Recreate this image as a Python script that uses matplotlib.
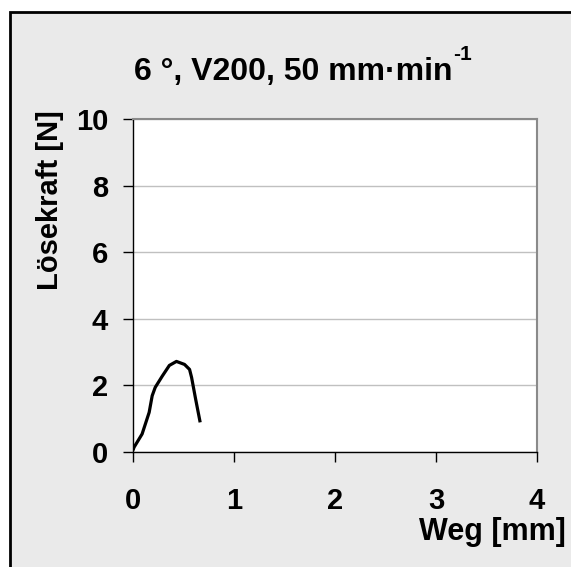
import matplotlib.pyplot as plt
from matplotlib.patches import Rectangle

# Weg [mm] vs Lösekraft [N]
weg = [0.0, 0.01, 0.09, 0.16, 0.19, 0.22, 0.29, 0.36, 0.43, 0.51, 0.56, 0.58, 0.62, 0.665]
kraft = [0.05, 0.14, 0.54, 1.19, 1.69, 1.94, 2.28, 2.60, 2.72, 2.63, 2.48, 2.24, 1.59, 0.89]

x_ticks = [0, 1, 2, 3, 4]
y_ticks = [0, 2, 4, 6, 8, 10]

plt.rcParams['font.family'] = ['Liberation Sans', 'DejaVu Sans']
plt.rcParams['font.weight'] = 'bold'

W, H = 571, 567
fig = plt.figure(figsize=(W / 100, H / 100), dpi=100, facecolor='white')

# grey panel with black frame
fig.patches.append(Rectangle((10 / W, -0.1), 1.2, (H - 12) / H + 0.1, transform=fig.transFigure,
                             facecolor='#eaeaea', edgecolor='black', lw=2, zorder=-5))

ax = fig.add_axes([133 / W, (H - 452) / H, (537 - 133) / W, (452 - 119) / H])
ax.set_zorder(2)
ax.set_facecolor('white')
ax.plot(weg, kraft, color='black', lw=2.3, solid_capstyle='butt', zorder=3)

ax.set_xlim(0, 4)
ax.set_ylim(0, 10)
ax.set_xticks(x_ticks)
ax.set_yticks(y_ticks)
ax.tick_params(axis='both', direction='out', length=7, width=1, labelsize=21)
ax.tick_params(axis='y', pad=11)
ax.tick_params(axis='x', pad=18)
for lab in ax.get_xticklabels() + ax.get_yticklabels():
    lab.set_fontweight('bold')

ax.grid(axis='y', color='#c0c0c0', lw=1)
ax.set_axisbelow(True)
for s in ['top', 'right']:
    ax.spines[s].set_color('#8a8a8a')
    ax.spines[s].set_linewidth(1.5)
for s in ['left', 'bottom']:
    ax.spines[s].set_color('black')
    ax.spines[s].set_linewidth(1)

fig.text(50 / W, 1 - 200 / H, 'Lösekraft [N]', rotation=90, ha='center', va='center',
         fontsize=21, fontweight='bold')
fig.text(566 / W, 1 - 532 / H, 'Weg [mm]', ha='right', va='center',
         fontsize=22, fontweight='bold')
title = fig.text(134 / W, 1 - 72 / H, '6 °, V200, 50 mm·min', ha='left', va='center',
                 fontsize=23, fontweight='bold')

# superscript right after the title text
bb = title.get_window_extent(renderer=fig.canvas.get_renderer())
fig.text(bb.x1 / W + 1 / W, 1 - 54 / H, '-1', ha='left', va='center',
         fontsize=15, fontweight='bold')

fig.savefig('out.png', dpi=100, facecolor='white')
